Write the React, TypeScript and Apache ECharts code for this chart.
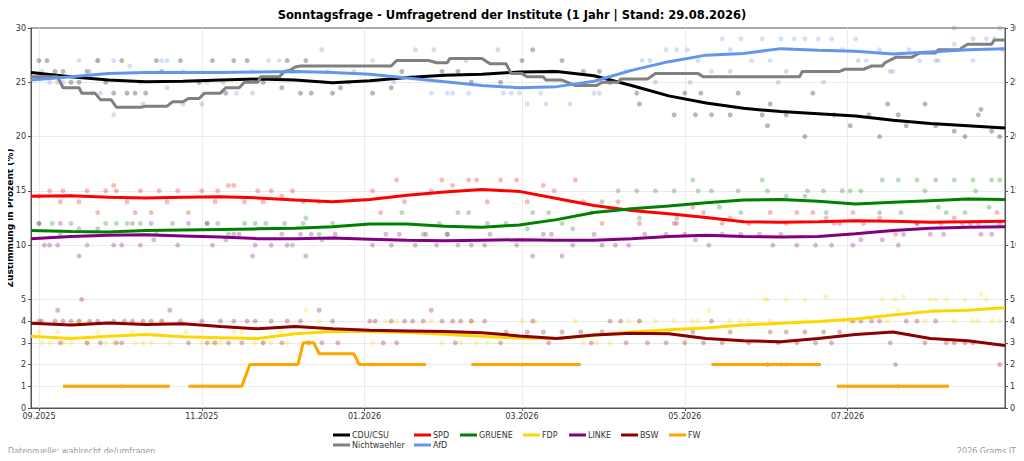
import * as echarts from "echarts";
import { useEffect, useRef } from "react";

// Stützstellen der Trendlinien (zweiwöchentlich)
const trendDates = [
    "2025-08-29", "2025-09-13", "2025-09-27", "2025-10-11", "2025-10-25", "2025-11-08", "2025-11-22",
    "2025-12-06", "2025-12-20", "2026-01-03", "2026-01-17", "2026-01-31", "2026-02-14", "2026-02-28",
    "2026-03-14", "2026-03-28", "2026-04-11", "2026-04-25", "2026-05-09", "2026-05-23", "2026-06-06",
    "2026-06-20", "2026-07-04", "2026-07-18", "2026-08-01", "2026-08-15", "2026-08-29",
];

const cduTrend = [25.9, 25.5, 25.2, 25.05, 25.1, 25.2, 25.3, 25.2, 24.95, 25.15, 25.45, 25.65, 25.75, 25.95, 26.0, 25.6, 24.7, 23.75, 23.1, 22.6, 22.3, 22.1, 21.9, 21.5, 21.2, 21.0, 20.8];
const afdTrend = [25.2, 25.5, 25.8, 25.9, 25.9, 25.9, 25.95, 26.0, 25.9, 25.75, 25.4, 25.05, 24.7, 24.5, 24.6, 25.1, 26.1, 26.9, 27.5, 27.65, 28.1, 27.95, 27.85, 27.6, 27.8, 28.0, 28.1];
const spdTrend = [14.5, 14.55, 14.4, 14.35, 14.4, 14.45, 14.35, 14.15, 14.0, 14.2, 14.6, 14.9, 15.12, 14.95, 14.3, 13.65, 13.2, 12.9, 12.55, 12.15, 12.1, 12.15, 12.25, 12.2, 12.1, 12.15, 12.2];
const grueneTrend = [11.35, 11.25, 11.2, 11.35, 11.4, 11.45, 11.5, 11.55, 11.7, 11.95, 11.95, 11.75, 11.65, 11.85, 12.35, 13.0, 13.35, 13.6, 13.9, 14.15, 14.2, 14.05, 13.8, 13.95, 14.1, 14.25, 14.2];
const linkeTrend = [10.6, 10.8, 10.9, 10.95, 10.85, 10.75, 10.6, 10.6, 10.65, 10.55, 10.45, 10.4, 10.45, 10.5, 10.45, 10.45, 10.6, 10.8, 10.9, 10.8, 10.75, 10.8, 11.05, 11.35, 11.55, 11.65, 11.7];
const fdpTrend = [3.3, 3.2, 3.3, 3.38, 3.28, 3.24, 3.2, 3.42, 3.52, 3.52, 3.48, 3.4, 3.3, 3.22, 3.2, 3.35, 3.5, 3.6, 3.68, 3.82, 3.9, 3.98, 4.1, 4.28, 4.45, 4.5, 4.62];
const bswTrend = [3.9, 3.82, 3.92, 3.85, 3.88, 3.75, 3.65, 3.75, 3.65, 3.58, 3.55, 3.52, 3.47, 3.32, 3.2, 3.36, 3.44, 3.42, 3.2, 3.1, 3.05, 3.2, 3.38, 3.5, 3.2, 3.1, 2.88];

// Treppenförmige Linien
const nwTrend: [string, number][] = [
    ["2025-08-29", 25.5], ["2025-09-08", 25.5], ["2025-09-10", 24.5], ["2025-09-16", 24.5], ["2025-09-17", 24.0],
    ["2025-09-22", 24.0], ["2025-09-24", 23.4], ["2025-09-28", 23.4], ["2025-09-30", 22.7], ["2025-10-09", 22.7],
    ["2025-10-11", 22.8], ["2025-10-19", 22.8], ["2025-10-21", 23.2], ["2025-10-25", 23.2], ["2025-10-27", 23.5],
    ["2025-10-31", 23.5], ["2025-11-02", 24.0], ["2025-11-08", 24.0], ["2025-11-10", 24.5], ["2025-11-15", 24.5],
    ["2025-11-17", 25.0], ["2025-11-22", 25.0], ["2025-11-23", 25.5], ["2025-11-30", 25.5], ["2025-12-02", 26.0],
    ["2025-12-04", 26.1], ["2025-12-06", 26.4], ["2025-12-08", 26.5], ["2026-01-11", 26.5], ["2026-01-13", 27.0],
    ["2026-01-25", 27.0], ["2026-01-28", 26.8], ["2026-02-01", 26.8], ["2026-02-02", 27.2], ["2026-02-14", 27.2],
    ["2026-02-17", 26.7], ["2026-02-23", 26.7], ["2026-02-25", 25.8], ["2026-03-01", 25.8], ["2026-03-03", 25.5],
    ["2026-03-09", 25.5], ["2026-03-10", 25.2], ["2026-03-16", 25.2], ["2026-03-21", 24.7], ["2026-03-29", 24.7],
    ["2026-03-31", 25.0], ["2026-04-06", 25.0], ["2026-04-07", 25.3], ["2026-04-17", 25.3], ["2026-04-20", 25.8],
    ["2026-05-06", 25.8], ["2026-05-08", 25.5], ["2026-06-13", 25.5], ["2026-06-14", 26.0], ["2026-06-28", 26.0],
    ["2026-06-30", 26.2], ["2026-07-07", 26.2], ["2026-07-10", 26.5], ["2026-07-14", 26.5], ["2026-07-15", 26.8],
    ["2026-07-19", 27.3], ["2026-07-25", 27.3], ["2026-07-28", 27.7], ["2026-08-03", 27.7], ["2026-08-04", 28.0],
    ["2026-08-12", 28.0], ["2026-08-13", 28.2], ["2026-08-15", 28.5], ["2026-08-24", 28.5], ["2026-08-25", 28.9],
    ["2026-08-29", 28.9],
];

const fwTrend: [string, number | null][] = [
    ["2025-09-10", 1], ["2025-10-20", 1], ["2025-10-23", null], ["2025-10-27", 1], ["2025-11-16", 1],
    ["2025-11-19", 2], ["2025-12-07", 2], ["2025-12-09", 3], ["2025-12-13", 3], ["2025-12-15", 2.5],
    ["2025-12-28", 2.5], ["2025-12-30", 2], ["2026-01-24", 2], ["2026-02-01", null], ["2026-02-10", 2],
    ["2026-03-23", 2], ["2026-04-15", null], ["2026-05-11", 2], ["2026-06-21", 2], ["2026-06-24", null],
    ["2026-06-27", 1], ["2026-08-08", 1],
];

// Einzelumfragen
const cduPolls: [string, number][] = [
    ["2025-09-01", 27], ["2025-09-04", 27], ["2025-09-07", 26], ["2025-09-10", 26], ["2025-09-13", 25], ["2025-09-16", 25],
    ["2025-09-19", 26], ["2025-09-23", 27], ["2025-09-26", 25], ["2025-09-29", 24], ["2025-10-02", 27], ["2025-10-04", 24],
    ["2025-10-07", 24], ["2025-10-11", 24], ["2025-10-15", 27], ["2025-10-17", 26], ["2025-10-24", 27], ["2025-10-31", 25],
    ["2025-11-05", 27], ["2025-11-10", 24], ["2025-11-13", 27], ["2025-11-18", 27], ["2025-11-24", 25], ["2025-12-01", 24.5],
    ["2025-12-03", 27], ["2025-12-08", 24], ["2025-12-10", 27], ["2025-12-12", 24], ["2025-12-20", 24], ["2025-12-23", 24.5],
    ["2026-01-04", 24], ["2026-01-11", 24.5], ["2026-01-15", 26], ["2026-01-30", 26], ["2026-02-05", 26], ["2026-02-10", 25],
    ["2026-02-21", 25], ["2026-03-01", 27], ["2026-03-05", 28], ["2026-03-16", 27], ["2026-03-24", 26], ["2026-03-30", 26],
    ["2026-04-03", 25], ["2026-04-13", 24], ["2026-04-14", 23], ["2026-04-27", 22], ["2026-05-01", 24], ["2026-05-05", 22],
    ["2026-05-07", 24], ["2026-05-11", 22], ["2026-05-18", 22], ["2026-05-21", 24], ["2026-05-30", 22], ["2026-06-01", 21],
    ["2026-06-02", 23], ["2026-06-08", 22], ["2026-06-15", 20], ["2026-06-18", 24], ["2026-06-26", 22], ["2026-07-02", 21],
    ["2026-07-09", 22], ["2026-07-13", 20], ["2026-07-16", 23], ["2026-07-20", 22], ["2026-07-23", 21], ["2026-07-30", 23],
    ["2026-08-03", 21], ["2026-08-10", 20.5], ["2026-08-14", 20], ["2026-08-19", 22], ["2026-08-20", 22.5], ["2026-08-24", 20.5],
    ["2026-08-27", 20],
];
const nwPolls: [string, number][] = [
    ["2025-09-08", 25], ["2025-09-21", 24], ["2025-09-29", 22], ["2025-10-10", 23], ["2025-10-19", 24.5], ["2025-10-25", 23],
    ["2025-11-01", 23], ["2025-11-09", 25], ["2025-11-20", 24], ["2025-12-16", 28], ["2025-12-28", 26], ["2026-01-20", 28],
    ["2026-01-27", 28], ["2026-02-08", 27], ["2026-02-20", 28], ["2026-03-12", 26], ["2026-03-30", 24], ["2026-04-20", 25],
    ["2026-05-03", 25], ["2026-05-18", 26], ["2026-06-05", 25], ["2026-06-08", 26], ["2026-06-22", 25], ["2026-07-05", 27],
    ["2026-07-17", 26], ["2026-08-03", 27], ["2026-08-10", 30], ["2026-08-17", 29], ["2026-08-27", 30],
];
const afdPolls: [string, number][] = [
    ["2025-09-02", 26], ["2025-09-05", 25], ["2025-09-10", 25], ["2025-09-16", 27], ["2025-09-20", 26], ["2025-09-23", 27],
    ["2025-09-24", 24], ["2025-09-29", 27], ["2025-10-05", 26.5], ["2025-10-09", 25], ["2025-10-17", 27], ["2025-10-19", 27],
    ["2025-10-25", 26], ["2025-11-03", 25], ["2025-11-14", 24], ["2025-11-20", 26], ["2025-11-26", 27], ["2025-11-30", 27],
    ["2025-12-05", 26], ["2025-12-18", 26], ["2025-12-26", 25], ["2026-01-04", 27], ["2026-01-12", 25], ["2026-01-26", 24],
    ["2026-02-01", 24], ["2026-02-03", 24], ["2026-02-09", 24], ["2026-02-22", 24], ["2026-02-25", 24], ["2026-02-28", 24],
    ["2026-03-03", 23], ["2026-03-08", 24], ["2026-03-10", 23], ["2026-03-19", 23], ["2026-03-28", 24], ["2026-04-03", 25],
    ["2026-04-09", 26], ["2026-04-15", 27], ["2026-04-18", 27], ["2026-04-24", 28], ["2026-04-28", 28], ["2026-05-02", 28],
    ["2026-05-06", 27], ["2026-05-11", 26], ["2026-05-15", 29], ["2026-05-18", 28], ["2026-05-22", 29], ["2026-05-26", 27],
    ["2026-05-30", 29], ["2026-06-02", 27], ["2026-06-06", 29], ["2026-06-11", 29], ["2026-06-15", 29], ["2026-06-20", 29],
    ["2026-06-25", 29], ["2026-06-29", 28], ["2026-07-04", 29], ["2026-07-08", 27], ["2026-07-13", 28], ["2026-07-18", 26],
    ["2026-07-24", 28], ["2026-07-28", 27], ["2026-08-04", 27], ["2026-08-10", 28.5], ["2026-08-17", 27], ["2026-08-22", 29],
    ["2026-08-25", 29], ["2026-08-28", 28],
];
const spdPolls: [string, number][] = [
    ["2025-09-01", 14.5], ["2025-09-05", 15], ["2025-09-09", 14], ["2025-09-10", 15], ["2025-09-16", 14], ["2025-09-19", 15],
    ["2025-09-23", 13], ["2025-09-26", 15], ["2025-09-29", 15.5], ["2025-09-30", 15], ["2025-10-04", 14], ["2025-10-07", 13],
    ["2025-10-09", 15], ["2025-10-13", 13], ["2025-10-16", 15], ["2025-10-19", 14], ["2025-10-23", 15], ["2025-10-27", 13],
    ["2025-11-01", 15], ["2025-11-06", 14], ["2025-11-07", 15], ["2025-11-11", 15.5], ["2025-11-13", 15.5], ["2025-11-17", 14],
    ["2025-11-22", 15], ["2025-11-24", 14], ["2025-11-27", 15], ["2025-12-01", 14.5], ["2025-12-05", 15], ["2025-12-09", 14],
    ["2025-12-15", 14], ["2026-01-04", 15], ["2026-01-07", 13], ["2026-01-13", 16], ["2026-01-16", 14], ["2026-01-26", 15],
    ["2026-01-30", 16], ["2026-02-03", 15.5], ["2026-02-09", 16], ["2026-02-12", 16], ["2026-02-16", 14], ["2026-02-21", 16],
    ["2026-02-27", 16], ["2026-03-03", 14], ["2026-03-09", 15.5], ["2026-03-13", 15], ["2026-03-21", 16], ["2026-03-24", 14],
    ["2026-03-31", 12], ["2026-04-06", 14], ["2026-04-14", 12], ["2026-04-28", 12], ["2026-05-04", 13.5], ["2026-05-08", 13],
    ["2026-05-15", 12], ["2026-05-18", 12.5], ["2026-05-25", 12], ["2026-06-02", 13], ["2026-06-08", 12], ["2026-06-12", 13],
    ["2026-06-18", 13], ["2026-06-23", 12.5], ["2026-06-26", 12], ["2026-07-03", 13], ["2026-07-07", 12], ["2026-07-13", 12.5],
    ["2026-07-19", 11], ["2026-07-27", 12], ["2026-08-05", 12], ["2026-08-10", 12.5], ["2026-08-19", 12], ["2026-08-26", 13],
];
const gruenePolls: [string, number][] = [
    ["2025-09-01", 12], ["2025-09-06", 12], ["2025-09-09", 11], ["2025-09-13", 12], ["2025-09-16", 11.5], ["2025-09-19", 10],
    ["2025-09-26", 12], ["2025-09-30", 12], ["2025-10-04", 12], ["2025-10-09", 12], ["2025-10-15", 11], ["2025-10-21", 12],
    ["2025-11-03", 12], ["2025-11-07", 12], ["2025-11-11", 11], ["2025-11-17", 12], ["2025-11-21", 12], ["2025-11-25", 12],
    ["2025-12-02", 12], ["2025-12-05", 10], ["2025-12-09", 12], ["2025-12-10", 12.5], ["2025-12-15", 11], ["2025-12-20", 12],
    ["2026-01-15", 13], ["2026-01-23", 11], ["2026-01-29", 12], ["2026-02-01", 11], ["2026-02-05", 13], ["2026-02-09", 13],
    ["2026-02-16", 12], ["2026-02-23", 12], ["2026-03-03", 11.5], ["2026-03-05", 13], ["2026-03-11", 13], ["2026-03-16", 12],
    ["2026-03-20", 11.5], ["2026-03-27", 13], ["2026-03-31", 14], ["2026-04-06", 15], ["2026-04-13", 15], ["2026-04-14", 12.5],
    ["2026-04-20", 15], ["2026-04-27", 15], ["2026-04-28", 12.5], ["2026-05-04", 16], ["2026-05-06", 15], ["2026-05-11", 15],
    ["2026-05-14", 13.5], ["2026-05-21", 15], ["2026-05-22", 13], ["2026-05-30", 16], ["2026-06-01", 15], ["2026-06-08", 14.5],
    ["2026-06-15", 14.5], ["2026-06-16", 15], ["2026-06-22", 15], ["2026-06-23", 13], ["2026-06-29", 15], ["2026-07-02", 15],
    ["2026-07-06", 15], ["2026-07-13", 13], ["2026-07-14", 16], ["2026-07-20", 16], ["2026-07-21", 13], ["2026-07-27", 16],
    ["2026-07-30", 15], ["2026-08-03", 16], ["2026-08-04", 13.5], ["2026-08-07", 13], ["2026-08-10", 16], ["2026-08-14", 13],
    ["2026-08-17", 16], ["2026-08-18", 15], ["2026-08-23", 13.5], ["2026-08-24", 16], ["2026-08-27", 16],
];
const linkePolls: [string, number][] = [
    ["2025-09-01", 12], ["2025-09-03", 10], ["2025-09-05", 10], ["2025-09-08", 10], ["2025-09-09", 12], ["2025-09-16", 9],
    ["2025-09-23", 11.5], ["2025-09-29", 10], ["2025-10-02", 10], ["2025-10-06", 12], ["2025-10-09", 10], ["2025-10-13", 12],
    ["2025-10-14", 10.5], ["2025-10-23", 10], ["2025-10-27", 12], ["2025-11-03", 12], ["2025-11-05", 10], ["2025-11-10", 10.5],
    ["2025-11-13", 11], ["2025-11-15", 11], ["2025-11-20", 9], ["2025-11-21", 10], ["2025-11-27", 10], ["2025-12-01", 11],
    ["2025-12-03", 10], ["2025-12-08", 11], ["2025-12-10", 9], ["2025-12-12", 11], ["2025-12-16", 10.5], ["2025-12-21", 11],
    ["2026-01-04", 10], ["2026-01-09", 11], ["2026-01-11", 10], ["2026-01-14", 11], ["2026-01-20", 10], ["2026-01-24", 11],
    ["2026-01-28", 10], ["2026-02-01", 11], ["2026-02-05", 10], ["2026-02-10", 10], ["2026-02-15", 10], ["2026-02-17", 11],
    ["2026-02-27", 10], ["2026-03-05", 9], ["2026-03-09", 11], ["2026-03-12", 11], ["2026-03-16", 9], ["2026-03-20", 10],
    ["2026-03-28", 11], ["2026-03-31", 10], ["2026-04-05", 10], ["2026-04-10", 10], ["2026-04-16", 11], ["2026-04-24", 11],
    ["2026-04-27", 12], ["2026-05-01", 11], ["2026-05-05", 10.5], ["2026-05-10", 10], ["2026-05-15", 11], ["2026-05-22", 11],
    ["2026-05-29", 11], ["2026-06-03", 10], ["2026-06-06", 11], ["2026-06-12", 10], ["2026-06-19", 10], ["2026-06-25", 10],
    ["2026-06-28", 12], ["2026-07-03", 10], ["2026-07-06", 10.5], ["2026-07-14", 10.5], ["2026-07-20", 10], ["2026-07-22", 11],
    ["2026-07-27", 12], ["2026-08-01", 11], ["2026-08-06", 11], ["2026-08-13", 12], ["2026-08-16", 12], ["2026-08-20", 11],
    ["2026-08-24", 11], ["2026-08-27", 12],
];
const fdpPolls: [string, number][] = [
    ["2025-09-01", 3.5], ["2025-09-02", 3], ["2025-09-05", 3], ["2025-09-08", 3.5], ["2025-09-10", 3], ["2025-09-13", 3],
    ["2025-09-16", 4], ["2025-09-19", 3], ["2025-09-23", 3.5], ["2025-09-26", 3], ["2025-09-29", 3], ["2025-10-06", 3.5],
    ["2025-10-07", 3], ["2025-10-10", 3], ["2025-10-13", 3], ["2025-10-17", 4], ["2025-10-20", 3], ["2025-10-26", 3.5],
    ["2025-11-01", 3], ["2025-11-05", 3], ["2025-11-08", 3], ["2025-11-13", 3.5], ["2025-11-16", 3.5], ["2025-11-21", 3],
    ["2025-11-24", 3], ["2025-11-27", 3], ["2025-12-01", 3.5], ["2025-12-03", 3], ["2025-12-10", 4.5], ["2025-12-15", 4],
    ["2025-12-22", 3.5], ["2026-01-04", 3], ["2026-01-09", 4], ["2026-01-13", 4], ["2026-01-26", 4], ["2026-01-30", 3],
    ["2026-02-06", 3], ["2026-02-10", 4], ["2026-02-12", 3], ["2026-02-16", 3], ["2026-03-01", 4], ["2026-03-06", 4],
    ["2026-03-21", 4], ["2026-03-24", 3], ["2026-03-29", 3], ["2026-04-03", 3], ["2026-04-07", 3.5], ["2026-04-10", 4],
    ["2026-04-14", 4], ["2026-04-20", 4], ["2026-04-27", 4], ["2026-05-04", 4], ["2026-05-06", 4], ["2026-05-10", 4.5],
    ["2026-05-18", 4], ["2026-05-22", 4], ["2026-05-25", 4], ["2026-05-31", 5], ["2026-06-01", 5], ["2026-06-02", 4],
    ["2026-06-08", 5], ["2026-06-15", 5], ["2026-06-16", 4], ["2026-06-23", 5.25], ["2026-06-29", 4], ["2026-07-02", 4],
    ["2026-07-14", 5], ["2026-07-16", 4], ["2026-07-19", 5], ["2026-07-20", 4.5], ["2026-07-22", 5.25], ["2026-07-30", 4],
    ["2026-08-01", 5], ["2026-08-03", 5], ["2026-08-07", 5], ["2026-08-10", 4], ["2026-08-14", 5], ["2026-08-17", 4],
    ["2026-08-19", 4], ["2026-08-20", 5.5], ["2026-08-22", 5], ["2026-08-24", 4], ["2026-08-27", 4],
];
const bswPolls: [string, number][] = [
    ["2025-09-01", 4], ["2025-09-02", 4], ["2025-09-07", 4], ["2025-09-08", 4.5], ["2025-09-09", 3], ["2025-09-10", 4],
    ["2025-09-13", 4], ["2025-09-16", 4], ["2025-09-17", 5], ["2025-09-19", 3], ["2025-09-20", 4], ["2025-09-23", 4],
    ["2025-09-24", 3], ["2025-09-29", 4], ["2025-09-30", 3], ["2025-10-02", 3], ["2025-10-03", 4], ["2025-10-06", 4],
    ["2025-10-10", 4], ["2025-10-13", 4], ["2025-10-17", 4], ["2025-10-20", 4.5], ["2025-10-24", 4], ["2025-10-27", 3],
    ["2025-11-01", 4], ["2025-11-03", 3], ["2025-11-06", 3], ["2025-11-08", 4], ["2025-11-11", 3], ["2025-11-13", 4],
    ["2025-11-16", 3], ["2025-11-18", 4], ["2025-11-21", 4], ["2025-11-24", 3], ["2025-11-27", 4], ["2025-12-01", 3],
    ["2025-12-03", 4], ["2025-12-08", 4], ["2025-12-11", 3], ["2025-12-15", 4.5], ["2025-12-16", 3], ["2025-12-20", 4],
    ["2025-12-22", 3], ["2026-01-03", 4], ["2026-01-05", 4], ["2026-01-08", 3], ["2026-01-11", 4], ["2026-01-13", 3],
    ["2026-01-16", 4], ["2026-01-19", 4], ["2026-01-23", 4], ["2026-01-26", 4.5], ["2026-01-30", 4], ["2026-02-03", 4],
    ["2026-02-04", 3], ["2026-02-06", 4], ["2026-02-10", 4], ["2026-02-15", 4], ["2026-02-21", 3], ["2026-02-23", 3.5],
    ["2026-03-03", 3.5], ["2026-03-05", 4], ["2026-03-09", 3.5], ["2026-03-11", 3], ["2026-03-16", 3.5], ["2026-03-23", 3.5],
    ["2026-03-27", 3], ["2026-03-31", 3.5], ["2026-04-03", 4], ["2026-04-07", 4], ["2026-04-09", 3], ["2026-04-14", 4],
    ["2026-04-17", 3], ["2026-04-24", 3], ["2026-05-01", 3], ["2026-05-04", 3.5], ["2026-05-08", 3], ["2026-05-11", 4],
    ["2026-05-15", 3], ["2026-05-18", 3.5], ["2026-05-25", 3], ["2026-06-01", 2], ["2026-06-02", 3.5], ["2026-06-05", 3],
    ["2026-06-08", 3.5], ["2026-06-12", 3], ["2026-06-15", 3.5], ["2026-06-19", 3], ["2026-06-22", 3.5], ["2026-06-25", 3],
    ["2026-06-28", 3.5], ["2026-07-03", 4], ["2026-07-06", 4], ["2026-07-10", 4], ["2026-07-13", 4], ["2026-07-17", 3],
    ["2026-07-19", 2], ["2026-07-23", 4], ["2026-07-27", 4], ["2026-07-30", 3], ["2026-08-03", 4], ["2026-08-07", 3],
    ["2026-08-10", 3], ["2026-08-14", 3], ["2026-08-17", 3], ["2026-08-27", 2],
];
const fwPolls: [string, number][] = [
    ["2025-10-02", 1], ["2025-12-11", 3], ["2026-01-04", 2], ["2026-03-01", 2], ["2026-06-06", 2], ["2026-06-08", 2], ["2026-07-20", 1],
];

const monthTicks = ["2025-09-01", "2025-11-01", "2026-01-01", "2026-03-01", "2026-05-01", "2026-07-01"];
const yTicks = [0, 1, 2, 3, 4, 5, 10, 15, 20, 25, 30];

// y-Achse: Bereich 0-5 ist doppelt so hoch skaliert wie 5-30
const toAxis = (v: number) => (v <= 5 ? v * 2 : v + 5);
const fromAxis = (v: number) => (v <= 10 ? v / 2 : v - 5);
const ts = (s: string) => new Date(s + "T00:00:00").getTime();

const FONT = "DejaVu Sans";

const Chart: React.FC = () => {
    const chartRef = useRef<HTMLDivElement>(null);

    useEffect(() => {
        const chartInstance = echarts.init(chartRef.current!, null, { renderer: "svg" });

        const zip = (vals: number[]) => trendDates.map((d, i) => [ts(d), toAxis(vals[i])]);
        const pairs = (list: [string, number | null][]) =>
            list.map(([d, v]) => [ts(d), v === null ? "-" : toAxis(v)]);

        const parties = [
            { name: "CDU/CSU", color: "#000000", trend: zip(cduTrend), polls: cduPolls },
            { name: "Nichtwaehler", color: "#808080", trend: pairs(nwTrend), polls: nwPolls },
            { name: "SPD", color: "#ff0000", trend: zip(spdTrend), polls: spdPolls },
            { name: "AfD", color: "#6495ed", trend: zip(afdTrend), polls: afdPolls },
            { name: "GRUENE", color: "#008000", trend: zip(grueneTrend), polls: gruenePolls },
            { name: "FDP", color: "#ffd700", trend: zip(fdpTrend), polls: fdpPolls },
            { name: "LINKE", color: "#800080", trend: zip(linkeTrend), polls: linkePolls },
            { name: "BSW", color: "#8b0000", trend: zip(bswTrend), polls: bswPolls },
            { name: "FW", color: "#ffa500", trend: pairs(fwTrend), polls: fwPolls },
        ];

        const gridLineStyle = { color: "#e6e6e6", width: 0.8, type: "solid" };

        const series: any[] = [
            {
                name: "grid",
                type: "line",
                data: [],
                z: 0,
                silent: true,
                markLine: {
                    silent: true,
                    z: 0,
                    symbol: ["none", "none"],
                    label: { show: false },
                    lineStyle: gridLineStyle,
                    data: [
                        ...yTicks.slice(1, -1).map((v) => ({ yAxis: toAxis(v) })),
                        ...monthTicks.map((m) => ({ xAxis: ts(m) })),
                    ],
                },
            },
        ];

        parties.forEach((p) => {
            series.push({
                name: p.name + " Umfragen",
                type: "scatter",
                data: p.polls.map(([d, v]) => [ts(d), toAxis(v)]),
                symbolSize: 5,
                itemStyle: { color: p.color, opacity: 0.28 },
                z: 1,
                silent: true,
            });
        });
        parties.forEach((p) => {
            series.push({
                name: p.name,
                type: "line",
                data: p.trend,
                showSymbol: false,
                connectNulls: false,
                lineStyle: { color: p.color, width: 3 },
                itemStyle: { color: p.color },
                z: 3,
                silent: true,
            });
        });

        const legendColumns = [
            { left: 333, data: ["CDU/CSU", "Nichtwaehler"] },
            { left: 414, data: ["SPD", "AfD"] },
            { left: 460, data: ["GRUENE"] },
            { left: 523, data: ["FDP"] },
            { left: 569, data: ["LINKE"] },
            { left: 621, data: ["BSW"] },
            { left: 669, data: ["FW"] },
        ];

        const yAxisBase = {
            type: "value",
            min: 0,
            max: 35,
            interval: 5,
            splitLine: { show: false },
            axisLine: { show: true, lineStyle: { color: "#555", width: 1 } },
            axisTick: { show: true, length: 3, customValues: yTicks.map(toAxis), lineStyle: { color: "#555" } },
            axisLabel: {
                customValues: yTicks.map(toAxis),
                formatter: (v: number) => String(fromAxis(v)),
                fontSize: 8,
                color: "#333",
                fontFamily: FONT,
                margin: 5,
            },
        };

        const option = {
            animation: false,
            textStyle: { fontFamily: FONT },
            title: {
                text: "Sonntagsfrage - Umfragetrend der Institute (1 Jahr | Stand: 29.08.2026)",
                left: "center",
                top: 4,
                textStyle: { fontSize: 11.5, fontWeight: "bold", color: "#000", fontFamily: FONT },
            },
            legend: legendColumns.map((c) => ({
                data: c.data,
                left: c.left,
                top: 431,
                orient: "vertical",
                padding: 0,
                itemGap: 2,
                itemWidth: 17,
                itemHeight: 3,
                icon: "rect",
                selectedMode: false,
                textStyle: { fontSize: 8, color: "#333", fontFamily: FONT, padding: [0, 0, 0, -3] },
            })),
            grid: {
                left: 31,
                right: 19,
                top: 28,
                bottom: 53,
                show: true,
                borderColor: "#555",
                borderWidth: 1,
                containLabel: false,
                outerBoundsMode: "none",
            },
            xAxis: {
                type: "value",
                min: ts("2025-08-29"),
                max: ts("2026-08-29"),
                splitLine: { show: false },
                axisLine: { show: true, lineStyle: { color: "#555", width: 1 } },
                axisTick: { show: true, length: 3, customValues: monthTicks.map(ts), lineStyle: { color: "#555" } },
                axisLabel: {
                    customValues: monthTicks.map(ts),
                    formatter: (v: number) => {
                        const d = new Date(v);
                        return String(d.getMonth() + 1).padStart(2, "0") + "." + d.getFullYear();
                    },
                    fontSize: 8,
                    color: "#333",
                    fontFamily: FONT,
                    margin: 4,
                },
            },
            yAxis: [
                {
                    ...yAxisBase,
                    position: "left",
                    name: "Zustimmung in Prozent (%)",
                    nameLocation: "middle",
                    nameGap: 17,
                    nameMoveOverlap: false,
                    nameTextStyle: { fontSize: 9, fontWeight: "bold", color: "#000", fontFamily: FONT },
                },
                { ...yAxisBase, position: "right" },
            ],
            graphic: [
                {
                    type: "text",
                    left: 8,
                    top: 447,
                    style: { text: "Datenquelle: wahlrecht.de/umfragen", fontSize: 8, fill: "#999", fontFamily: FONT },
                },
                {
                    type: "text",
                    right: 8,
                    top: 447,
                    style: { text: "2026 Grams IT", fontSize: 8, fill: "#999", fontFamily: FONT },
                },
            ],
            series,
        };

        chartInstance.setOption(option);

        return () => {
            chartInstance.dispose();
        };
    }, []);

    return (
        <div
            ref={chartRef}
            style={{
                width: "1024px",
                height: "461px",
            }}
        />
    );
};

const App: React.FC = () => {
    return (
        <div style={{ margin: -8 }}>
            <Chart />
        </div>
    );
};

export default App;
